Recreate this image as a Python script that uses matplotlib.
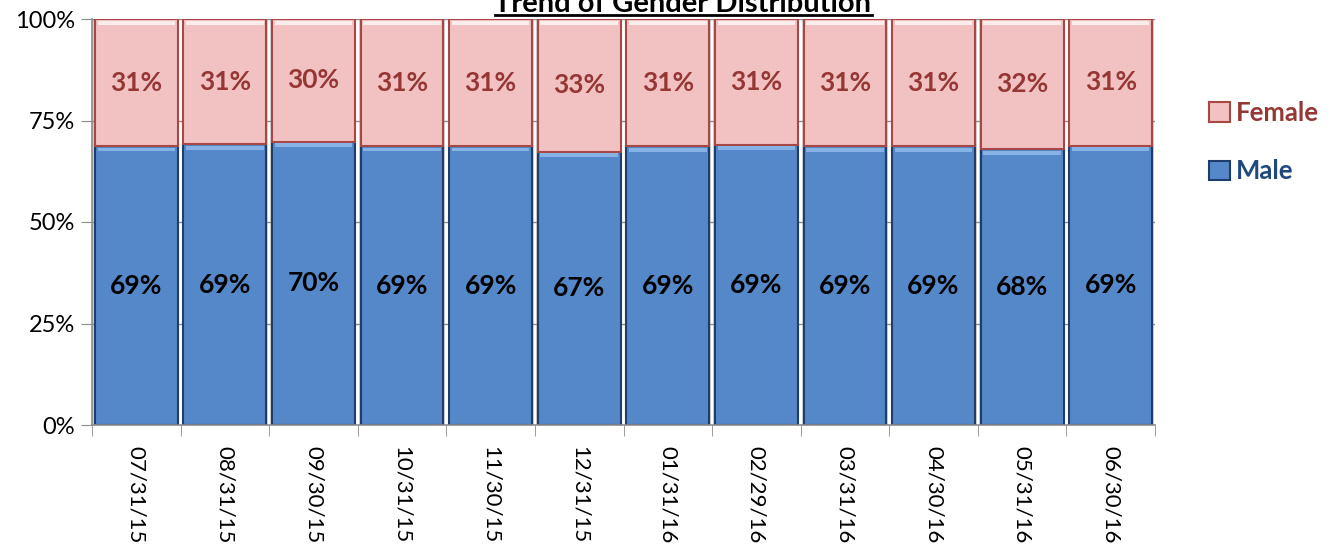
import matplotlib
matplotlib.use("Agg")
import matplotlib.pyplot as plt
from matplotlib.ticker import FuncFormatter, MultipleLocator
from matplotlib.patches import Rectangle
from matplotlib.lines import Line2D
import numpy as np

plt.rcParams['font.family'] = ['Lato', 'DejaVu Sans']

categories = ["07/31/15", "08/31/15", "09/30/15", "10/31/15", "11/30/15", "12/31/15",
              "01/31/16", "02/29/16", "03/31/16", "04/30/16", "05/31/16", "06/30/16"]
male = [0.687, 0.691, 0.698, 0.687, 0.687, 0.673, 0.686, 0.690, 0.686, 0.686, 0.679, 0.688]
female = [0.313, 0.309, 0.302, 0.313, 0.313, 0.327, 0.314, 0.310, 0.314, 0.314, 0.321, 0.312]

male_fill = '#5588C8'
male_edge = '#1F3D6B'
female_fill = '#F2C2C2'
female_edge = '#A84846'

fig = plt.figure(figsize=(13.32, 5.44), dpi=100)
ax = fig.add_axes([92/1332, 1-425/544, (1155-92)/1332, (425-19)/544])

x = np.arange(len(categories))
w = 0.935

# gap shading behind bars
ax.bar(x, [1.0]*len(x), width=1.0, color='#D0D0D0', zorder=0.5, linewidth=0)
ax.bar(x + 0.5, [1.0]*len(x), width=0.03, color='#FFFFFF', zorder=0.6, linewidth=0)

for yv in [0.25, 0.5, 0.75, 1.0]:
    ax.axhline(yv, color='#8C8C8C', lw=1, zorder=0.7)

bm = ax.bar(x, male, width=w, color=male_fill, edgecolor=male_edge, linewidth=1.5, zorder=2)
bf = ax.bar(x, female, width=w, bottom=male, color=female_fill, edgecolor=female_edge, linewidth=1.5, zorder=2)

# bevel highlights
for i in range(len(x)):
    ax.add_patch(Rectangle((x[i]-w/2+0.03, male[i]-0.013), w-0.06, 0.009,
                           color='#86B2E6', zorder=2.5, lw=0))
    ax.add_patch(Rectangle((x[i]-w/2+0.03, 0.984), w-0.06, 0.012,
                           color='#FCEDED', zorder=2.5, lw=0))

for i in range(len(x)):
    ax.text(x[i], male[i]/2, f"{round(male[i]*100):.0f}%", ha='center', va='center',
            fontsize=19, fontweight='bold', color='black', zorder=3)
    ax.text(x[i], male[i] + female[i]/2, f"{round(female[i]*100):.0f}%", ha='center', va='center',
            fontsize=19, fontweight='bold', color='#953735', zorder=3)

ax.set_xlim(-0.5, len(x)-0.5)
ax.set_ylim(0, 1)
ax.yaxis.set_major_locator(MultipleLocator(0.25))
ax.yaxis.set_major_formatter(FuncFormatter(lambda v, p: f"{v*100:.0f}%"))
ax.set_xticks(x)
ax.set_xticklabels(categories, rotation=270, fontsize=16, va='top', ha='center')
ax.set_xticks(np.arange(-0.5, len(x)), minor=True)
ax.tick_params(axis='x', which='major', length=0, pad=15)
ax.tick_params(axis='x', which='minor', length=8, color='#8C8C8C', direction='out')
ax.tick_params(axis='y', length=8, color='#8C8C8C', direction='out', labelsize=17, pad=4)
for s in ['top', 'right']:
    ax.spines[s].set_visible(False)
for s in ['left', 'bottom']:
    ax.spines[s].set_color('#8C8C8C')
    ax.spines[s].set_linewidth(1.2)
ax.set_facecolor('white')

t = fig.text(683/1332, 1-12/544, "Trend of Gender Distribution", ha='center', va='baseline',
             fontsize=21, fontweight='bold')
fig.canvas.draw()
bb = t.get_window_extent()
fig.add_artist(Line2D([bb.x0/1332, bb.x1/1332], [1-15/544, 1-15/544], color='black', lw=2))

handles = [Rectangle((0, 0), 1, 1, facecolor=female_fill, edgecolor=female_edge, lw=1.5),
           Rectangle((0, 0), 1, 1, facecolor=male_fill, edgecolor=male_edge, lw=1.5)]
leg = fig.legend(handles, ['Female', 'Male'], loc='center left',
                 bbox_to_anchor=(1186/1332, 1-142/544), frameon=False,
                 prop={'size': 18.5, 'weight': 'bold'}, handlelength=0.8, handleheight=0.8,
                 handletextpad=0.25, labelspacing=1.35)
leg.get_texts()[0].set_color('#953735')
leg.get_texts()[1].set_color('#1F497D')

fig.savefig('out.png', dpi=100)
